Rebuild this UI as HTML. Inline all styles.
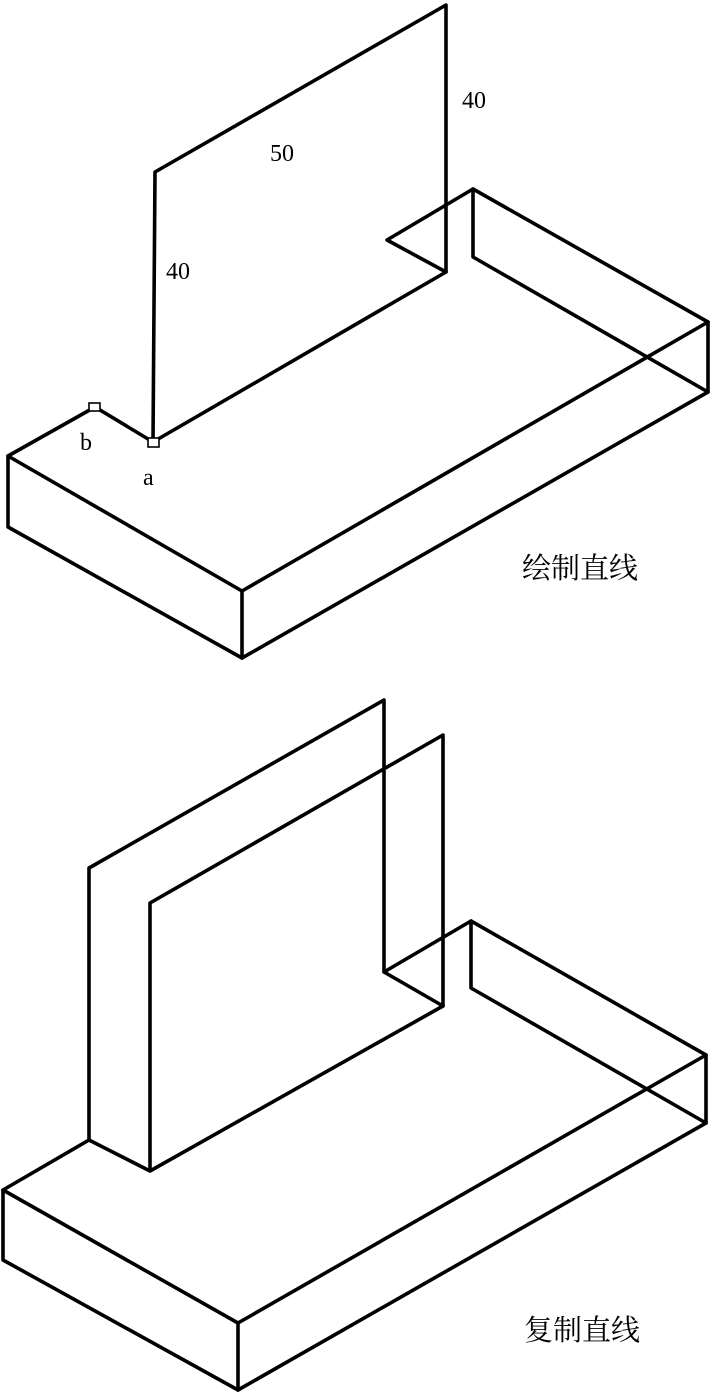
<!DOCTYPE html>
<html><head><meta charset="utf-8"><style>
html,body{margin:0;padding:0;background:#fff;width:713px;height:1395px;overflow:hidden}
svg{display:block}
text{font-family:"Liberation Serif","Noto Serif CJK SC",serif;fill:#000}
</style></head><body>
<svg width="713" height="1395" viewBox="0 0 713 1395" xmlns="http://www.w3.org/2000/svg">
<g fill="none" stroke="#000" stroke-width="3.6" stroke-linejoin="round" stroke-linecap="round">
<!-- top figure -->
<polyline points="8,456 95,407 153,442 446,272 446,5 155,172 153,442"/>
<polyline points="8,456 8,527 242,658 242,591 8,456"/>
<line x1="242" y1="658" x2="708" y2="392"/>
<line x1="242" y1="591" x2="708" y2="322"/>
<polyline points="708,322 708,392 473,257 473,189 708,322"/>
<polyline points="473,189 387,240 446,272"/>
<!-- bottom figure -->
<polyline points="3,1190 3,1260 238,1390 238,1323 3,1190"/>
<line x1="238" y1="1390" x2="706" y2="1123"/>
<line x1="238" y1="1323" x2="706" y2="1055"/>
<polyline points="706,1055 706,1123 471,988 471,921 706,1055"/>
<polyline points="3,1190 89,1140 150,1171 443,1006 443,735 150,903 150,1171"/>
<polyline points="89,1140 89,868 384,700 384,972 443,1006"/>
<polyline points="384,972 471,921"/>
</g>
<g fill="#fff" stroke="#000" stroke-width="1.6">
<rect x="89" y="403" width="11" height="8"/>
<rect x="148" y="438" width="11" height="9"/>
</g>
<text x="462" y="108" font-size="24">40</text>
<text x="270" y="161" font-size="24">50</text>
<text x="166" y="279" font-size="24">40</text>
<text x="80" y="450" font-size="24">b</text>
<text x="143" y="485" font-size="24">a</text>
<text x="522" y="578" font-size="29">绘制直线</text>
<text x="524" y="1340" font-size="29">复制直线</text>
</svg>
</body></html>
